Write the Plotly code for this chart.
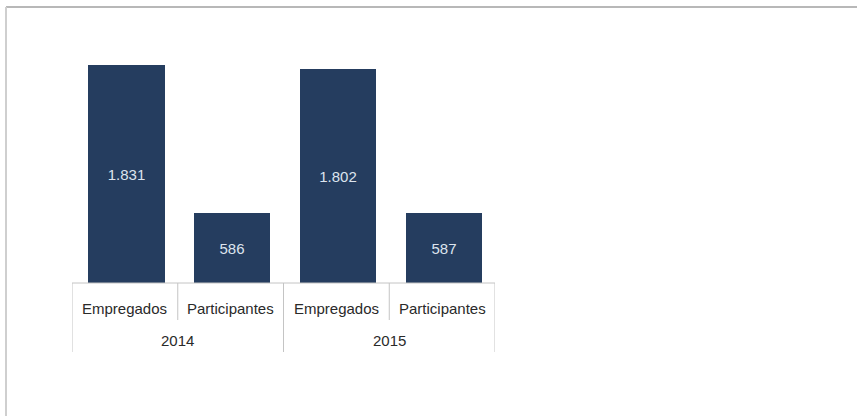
import plotly.graph_objects as go

# Data
categories = ["Empregados", "Participantes", "Empregados", "Participantes"]
years = ["2014", "2015"]
values = [1831, 586, 1802, 587]

BAR_COLOR = "#253d5f"
LINE_COLOR = "#c4c4c4"
FONT = "Liberation Sans, Arial, sans-serif"

x_pos = list(range(len(categories)))

fig = go.Figure(
    go.Bar(
        x=x_pos,
        y=values,
        width=0.72,
        offset=-0.345,
        marker=dict(color=BAR_COLOR, line=dict(width=0)),
        texttemplate="%{y:,}",
        textposition="inside",
        insidetextanchor="middle",
        textangle=0,
        insidetextfont=dict(family=FONT, size=15, color="#dde4ee"),
        hoverinfo="skip",
    )
)

# Plot area geometry (pixels) used to place the two-level category axis
plot_h = 238
row1_y = -25 / plot_h
row2_y = -57 / plot_h
inner_bottom = -37 / plot_h
outer_bottom = -69 / plot_h

shapes = []
# baseline / top of the category table
shapes.append(dict(type="line", xref="x", yref="paper", x0=-0.5, x1=3.5, y0=0, y1=0,
                   line=dict(color=LINE_COLOR, width=1)))
# group separators (full height)
for xv in [-0.5, 1.5, 3.5]:
    shapes.append(dict(type="line", xref="x", yref="paper", x0=xv, x1=xv, y0=0, y1=outer_bottom,
                       line=dict(color=LINE_COLOR, width=1)))
# category separators within a group
for xv in [0.5, 2.5]:
    shapes.append(dict(type="line", xref="x", yref="paper", x0=xv, x1=xv, y0=0, y1=inner_bottom,
                       line=dict(color=LINE_COLOR, width=1)))

# outer frame (top and left edges)
fx0 = (6 - 72) / 423
fy_top = (283 - 7) / plot_h
shapes.append(dict(type="line", xref="paper", yref="paper", x0=fx0, x1=(857 - 72) / 423 + 0.01,
                   y0=fy_top, y1=fy_top, line=dict(color="#b8b8b8", width=2)))
shapes.append(dict(type="line", xref="paper", yref="paper", x0=fx0, x1=fx0,
                   y0=fy_top, y1=(283 - 420) / plot_h, line=dict(color="#cfcfcf", width=2)))

annotations = []
for i, c in enumerate(categories):
    annotations.append(dict(x=i, y=row1_y, xref="x", yref="paper", text=c, showarrow=False,
                            xanchor="center", yanchor="middle",
                            font=dict(family=FONT, size=15, color="#2a2a2a")))
for g, yr in enumerate(years):
    annotations.append(dict(x=g * 2 + 0.5, y=row2_y, xref="x", yref="paper", text=yr, showarrow=False,
                            xanchor="center", yanchor="middle",
                            font=dict(family=FONT, size=15, color="#2a2a2a")))

fig.update_layout(
    width=857,
    height=416,
    margin=dict(l=72, r=362, t=45, b=133),
    paper_bgcolor="white",
    plot_bgcolor="white",
    separators=",.",
    showlegend=False,
    xaxis=dict(range=[-0.5, 3.5], visible=False, fixedrange=True),
    yaxis=dict(range=[0, 2000], visible=False, fixedrange=True),
    shapes=shapes,
    annotations=annotations,
    bargap=0,
)

fig.write_html("out.html")
